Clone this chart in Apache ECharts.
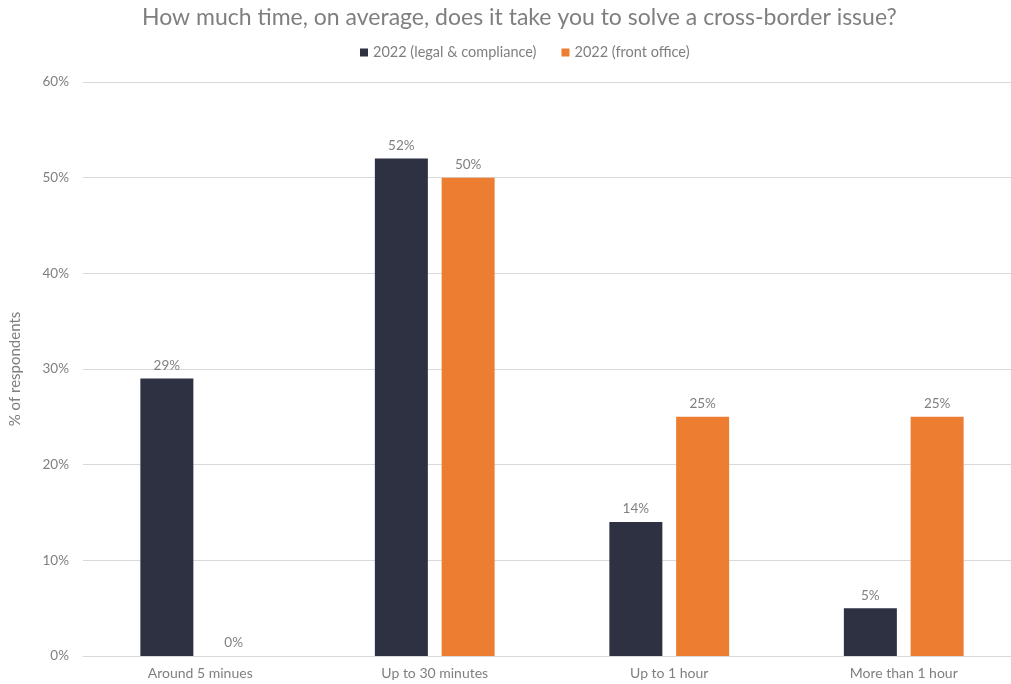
<!DOCTYPE html>
<html><head><meta charset="utf-8">
<script src="https://cdn.jsdelivr.net/npm/echarts@6/dist/echarts.min.js"></script>
<style>html,body{margin:0;padding:0;background:#fff;overflow:hidden}#c{width:1024px;height:684px}</style>
</head><body><div id="c"></div>
<script>
const categories = ['Around 5 minues', 'Up to 30 minutes', 'Up to 1 hour', 'More than 1 hour'];
const legalCompliance = [29, 52, 14, 5];
const frontOffice = [0, 50, 25, 25];
const seriesNames = ['2022 (legal & compliance)', '2022 (front office)'];
const yTicks = [0, 10, 20, 30, 40, 50, 60];

const font = 'Lato, "Open Sans", sans-serif';
const gray = '#7f7f7f';
const chart = echarts.init(document.getElementById('c'));
const labelCfg = {show: true, position: 'top', distance: 6, color: gray, fontFamily: font, fontSize: 13.5, formatter: p => p.value + '%'};
chart.setOption({
  animation: false,
  title: {text: 'How much time, on average, does it take you to solve a cross-border issue?', left: 137, top: 1,
    textStyle: {color: gray, fontFamily: font, fontSize: 23, fontWeight: 'normal'}},
  legend: {top: 40, left: 355, itemWidth: 8, itemHeight: 8, itemGap: 25, icon: 'rect',
    textStyle: {color: gray, fontFamily: font, fontSize: 14.5}, data: seriesNames},
  grid: {left: 81, top: 82, width: 940, bottom: 28, containLabel: false},
  xAxis: {type: 'category', data: categories,
    axisLine: {lineStyle: {color: '#d9d9d9'}}, axisTick: {show: false},
    axisLabel: {color: gray, fontFamily: font, fontSize: 14, margin: 10}},
  yAxis: {type: 'value', min: yTicks[0], max: yTicks[yTicks.length - 1], interval: 10,
    name: '% of respondents', nameLocation: 'middle', nameGap: 60, nameRotate: 90,
    nameTextStyle: {color: gray, fontFamily: font, fontSize: 15},
    axisLine: {show: false}, axisTick: {show: false},
    axisLabel: {color: gray, fontFamily: font, fontSize: 13.5, margin: 14, formatter: v => v + '%'},
    splitLine: {lineStyle: {color: '#d9d9d9'}}},
  series: [
    {name: seriesNames[0], type: 'bar', data: legalCompliance, barWidth: 53, barGap: '26%', itemStyle: {color: '#2d3142'}, label: labelCfg},
    {name: seriesNames[1], type: 'bar', data: frontOffice, barWidth: 53, itemStyle: {color: '#ed7d31'}, label: labelCfg}
  ]
});
</script></body></html>
